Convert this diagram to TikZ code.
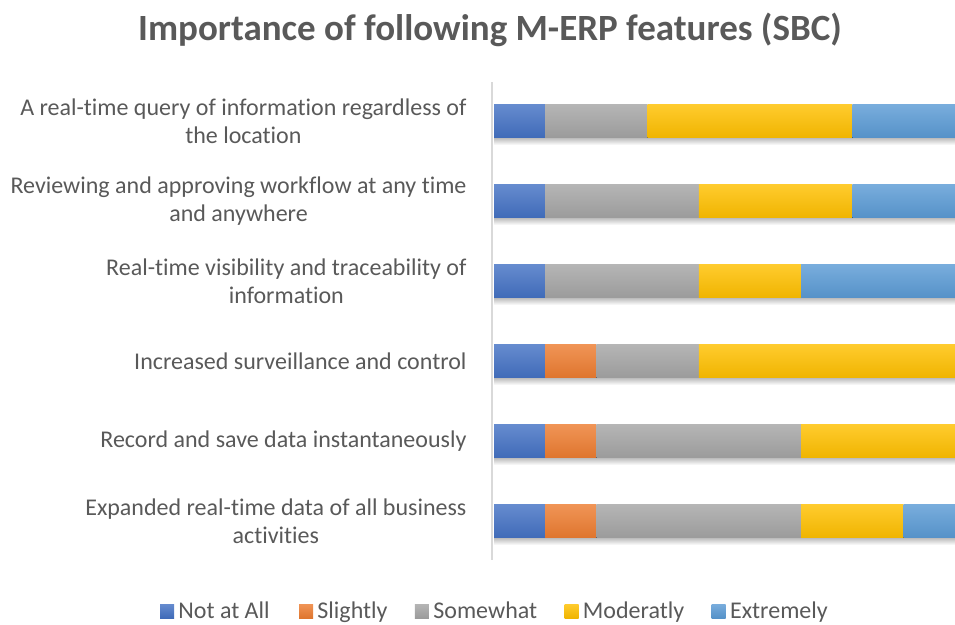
\documentclass[tikz,border=0pt]{standalone}
\usepackage{fontspec}
\setmainfont{Carlito}[Ligatures=NoCommon]
\usetikzlibrary{positioning}

\definecolor{txtgray}{HTML}{595959}
\definecolor{axisgray}{HTML}{D9D9D9}
\definecolor{nota}{HTML}{4472C4}
\definecolor{slight}{HTML}{ED7D31}
\definecolor{some}{HTML}{A5A5A5}
\definecolor{mod}{HTML}{FFC000}
\definecolor{ext}{HTML}{5B9BD5}

\tikzset{
  seg/.style={top color=#1!82!white, bottom color=#1!94!black},
  lbl/.style={anchor=east, align=center, text=txtgray, font=\fontsize{24}{28}\selectfont},
  keybox/.style={minimum size=14pt, inner sep=0pt, top color=#1!82!white, bottom color=#1!94!black},
  keytxt/.style={inner sep=0pt, text height=18pt, text depth=4pt, text=txtgray, font=\fontsize{24}{28}\selectfont}
}

\begin{document}
\begin{tikzpicture}[x=1pt,y=-1pt]
	\useasboundingbox (0,0) rectangle (955,624);
	\node[text=txtgray, font=\fontsize{37}{42}\selectfont\bfseries] (title) at (490,30) {Importance of following M-ERP features (SBC)};
	% soft shadows under the bars
	\foreach \y in {121,201,281,361,441,521}
		\shade[top color=black!30, bottom color=white] (494,\y+16) rectangle (955,\y+24);
	% bars, one unit = 51.2
	\foreach \a/\b/\c in {0/1/nota,1/3/some,3/7/mod,7/9/ext}
		\fill[seg=\c] (494+\a*51.2,104.5) rectangle (494+\b*51.2,137.5);
	\foreach \a/\b/\c in {0/1/nota,1/4/some,4/7/mod,7/9/ext}
		\fill[seg=\c] (494+\a*51.2,184.5) rectangle (494+\b*51.2,217.5);
	\foreach \a/\b/\c in {0/1/nota,1/4/some,4/6/mod,6/9/ext}
		\fill[seg=\c] (494+\a*51.2,264.5) rectangle (494+\b*51.2,297.5);
	\foreach \a/\b/\c in {0/1/nota,1/2/slight,2/4/some,4/9/mod}
		\fill[seg=\c] (494+\a*51.2,344.5) rectangle (494+\b*51.2,377.5);
	\foreach \a/\b/\c in {0/1/nota,1/2/slight,2/6/some,6/9/mod}
		\fill[seg=\c] (494+\a*51.2,424.5) rectangle (494+\b*51.2,457.5);
	\foreach \a/\b/\c in {0/1/nota,1/2/slight,2/6/some,6/8/mod,8/9/ext}
		\fill[seg=\c] (494+\a*51.2,504.5) rectangle (494+\b*51.2,537.5);
	\draw[axisgray, line width=2pt] (492,82) -- (492,560);
	% category labels
	\node[lbl] (q1) at (470,121) {A real-time query of information regardless of\\the location};
	\node[lbl] (q2) at (470,201) {Reviewing and approving workflow at any time\\and anywhere};
	\node[lbl] (q3) at (470,281) {Real-time visibility and traceability of\\information};
	\node[lbl] (q4) at (470,361) {Increased surveillance and control};
	\node[lbl] (q5) at (470,441) {Record and save data instantaneously};
	\node[lbl] (q6) at (470,521) {Expanded real-time data of all business\\activities};
	% legend
	\node[keybox=nota] (k1) at (167,611) {};
	\node[keytxt, right=4pt of k1] (t1) {Not at All};
	\node[keybox=slight, right=29pt of t1] (k2) {};
	\node[keytxt, right=4pt of k2] (t2) {Slightly};
	\node[keybox=some, right=27pt of t2] (k3) {};
	\node[keytxt, right=4pt of k3] (t3) {Somewhat};
	\node[keybox=mod, right=27pt of t3] (k4) {};
	\node[keytxt, right=4pt of k4] (t4) {Moderatly};
	\node[keybox=ext, right=27pt of t4] (k5) {};
	\node[keytxt, right=4pt of k5] (t5) {Extremely};
\end{tikzpicture}
\end{document}
